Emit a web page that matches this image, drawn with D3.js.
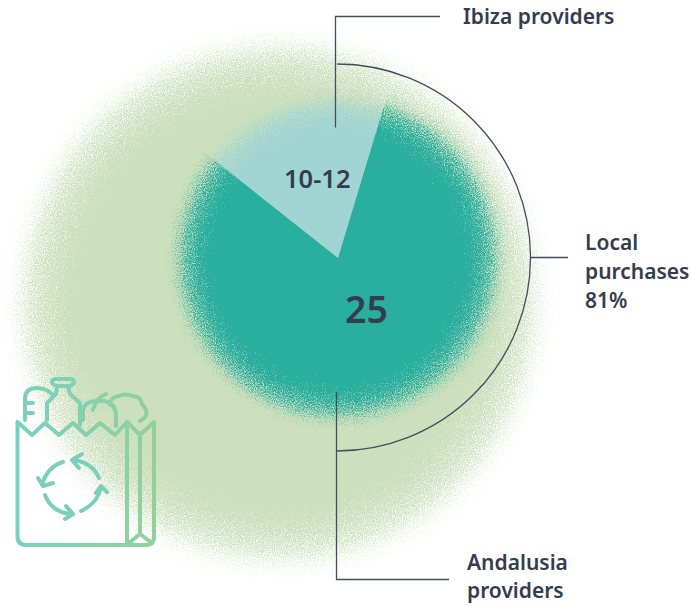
<!DOCTYPE html>
<html><head><meta charset="utf-8">
<script src="https://cdn.jsdelivr.net/npm/d3@7"></script>
<style>html,body{margin:0;background:#fff}svg{display:block}text{font-family:"Noto Sans",sans-serif;font-weight:600;fill:#343d4f}</style>
</head><body><svg id="c" width="691" height="606"></svg>
<script>
const sliceNames = ["Ibiza providers", "Andalusia providers"];
const sliceShares = [19, 81];
const sliceLabels = ["10-12", "25"];
const sliceColors = ["#a1d5d3", "#2aae9f"];
const svg = d3.select("#c");
const cx = 338, cy = 258;
const defs = svg.append("defs");

function grain(id, seed, freq, spread, slope, icpt) {
  const f = defs.append("filter").attr("id", id).attr("filterUnits","userSpaceOnUse")
    .attr("x",0).attr("y",0).attr("width",691).attr("height",606)
    .attr("color-interpolation-filters","sRGB");
  f.append("feTurbulence").attr("type","fractalNoise").attr("baseFrequency",freq).attr("numOctaves",2).attr("seed",seed).attr("result","n");
  f.append("feColorMatrix").attr("in","n").attr("type","matrix")
    .attr("values","0 0 0 0 1  0 0 0 0 1  0 0 0 0 1  1 0 0 0 0").attr("result","na");
  f.append("feComposite").attr("in","SourceGraphic").attr("in2","na").attr("operator","arithmetic")
    .attr("k1",0).attr("k2",1.6).attr("k3",spread).attr("k4",-spread/2).attr("result","s");
  const t = f.append("feComponentTransfer").attr("in","s").attr("result","st");
  t.append("feFuncA").attr("type","linear").attr("slope",slope).attr("intercept",icpt);
  const h = f.append("feComponentTransfer").attr("in","SourceGraphic").attr("result","disc");
  h.append("feFuncA").attr("type","linear").attr("slope",3).attr("intercept",0);
  f.append("feComposite").attr("in","st").attr("in2","disc").attr("operator","in").attr("result","cl");
  f.append("feGaussianBlur").attr("in","cl").attr("stdDeviation",0.55);
}
function radial(id, x, y, r, stops) {
  const g = defs.append("radialGradient").attr("id",id).attr("gradientUnits","userSpaceOnUse")
    .attr("cx",x).attr("cy",y).attr("r",r);
  stops.forEach(s => g.append("stop").attr("offset",s[0]).attr("stop-color","#fff").attr("stop-opacity",s[1]));
}
grain("gBig", 4, 0.9, 2.0, 1.2, -0.12);
grain("gTeal", 9, 0.9, 2.0, 1.4, -0.25);

const rBigOuter = 282, rTealOuter = 176;
radial("rBig", 279, 303, rBigOuter, [[0,1],[0.64,1],[1,0]]);
radial("rTeal", cx, cy, rTealOuter, [[0,1],[0.63,1],[1,0]]);

const mBig = defs.append("mask").attr("id","mBig").attr("maskUnits","userSpaceOnUse").attr("x",0).attr("y",0).attr("width",691).attr("height",606);
mBig.append("circle").attr("cx",279).attr("cy",303).attr("r",rBigOuter).attr("fill","url(#rBig)").attr("filter","url(#gBig)");
const mTeal = defs.append("mask").attr("id","mTeal").attr("maskUnits","userSpaceOnUse").attr("x",0).attr("y",0).attr("width",691).attr("height",606);
mTeal.append("circle").attr("cx",cx).attr("cy",cy).attr("r",rTealOuter).attr("fill","url(#rTeal)").attr("filter","url(#gTeal)");

svg.append("rect").attr("width",691).attr("height",606).attr("fill","#cde0bd").attr("mask","url(#mBig)");

const deg = Math.PI/180;
const pie = d3.pie().sort(null).startAngle(-51.6*deg).endAngle(308.4*deg);
const arc = d3.arc().innerRadius(0).outerRadius(185);
svg.append("g").attr("mask","url(#mTeal)").append("g").attr("transform",`translate(${cx},${cy})`)
  .selectAll("path").data(pie(sliceShares)).join("path").attr("d",arc).attr("fill",(d,i)=>sliceColors[i]);

// leader lines
const ink = "#454c5d";
const lg = svg.append("g").attr("fill","none").attr("stroke",ink).attr("stroke-width",1.3);
lg.append("path").attr("transform","translate(337,257.5)")
  .attr("d", d3.arc()({innerRadius:193.5,outerRadius:193.5,startAngle:0,endAngle:Math.PI}));
lg.append("path").attr("d","M440,16.5H335.5V127.5");
lg.append("path").attr("d","M530.5,257.5H568");
lg.append("path").attr("d","M336.5,392V579.5H449");

// labels
const t = (x,y,s,fs)=>svg.append("text").attr("x",x).attr("y",y).attr("font-size",fs).text(s);
t(463,24,sliceNames[0],21);
t(467,570,"Andalusia",21);
t(467,598,"providers",21);
t(585,250,"Local",21);
t(585,279,"purchases",21);
t(585,308,"81%",21);
t(284,188,sliceLabels[0],25.5);
t(345,323,sliceLabels[1],37.5);

// shopping bag icon
const bg = defs.append("linearGradient").attr("id","bag").attr("gradientUnits","userSpaceOnUse").attr("x1",17).attr("x2",156).attr("y1",460).attr("y2",460);
bg.append("stop").attr("offset",0).attr("stop-color","#77d1c0");
bg.append("stop").attr("offset",1).attr("stop-color","#93d09a");
const ic = svg.append("g").attr("fill","none").attr("stroke","url(#bag)").attr("stroke-width",4).attr("stroke-linecap","round").attr("stroke-linejoin","round");
[
 "M17.5,422V536Q17.5,545 26,545H146Q154,545 154,536V422L140,435L127,422V544",
 "M17.5,422L32,435L45,423L59,435L73,423L86,435L100,423L115,435L127,422",
 "M140,433V534M129,543L140,534L152,543",
 "M25,420V399Q25,388 37,388Q46,388 53,395M25,403H33M25,413H33",
 "M57,386Q52,384 52,382Q52,379 56,379H70Q74,379 74,382Q74,385 69,386ZM57,386L56,394L47,403V420M68,386L70,394L80,403V425",
 "M83,420V411Q84,402 95,401H104Q116,403 116,416V426M93,410Q96,398 106,394",
 "M110,405Q110,397 119,396Q124,393 132,396Q141,396 142,404Q148,410 146,416Q144,419 140,421"
].forEach(d=>ic.append("path").attr("d",d));
const ac = svg.append("g").attr("fill","none").attr("stroke","#7bcfbb").attr("stroke-width",4).attr("stroke-linecap","round").attr("stroke-linejoin","round");
[
 "M63,462Q47,467 42,485M38,478L43,486L53,483",
 "M73,460Q92,462 99,478M82,454L72,460L79,468",
 "M101,487Q98,503 81,511M96,493L101,486L107,492",
 "M72,514Q52,513 45,495M65,519L73,514L66,506"
].forEach(d=>ac.append("path").attr("d",d));
</script></body></html>
